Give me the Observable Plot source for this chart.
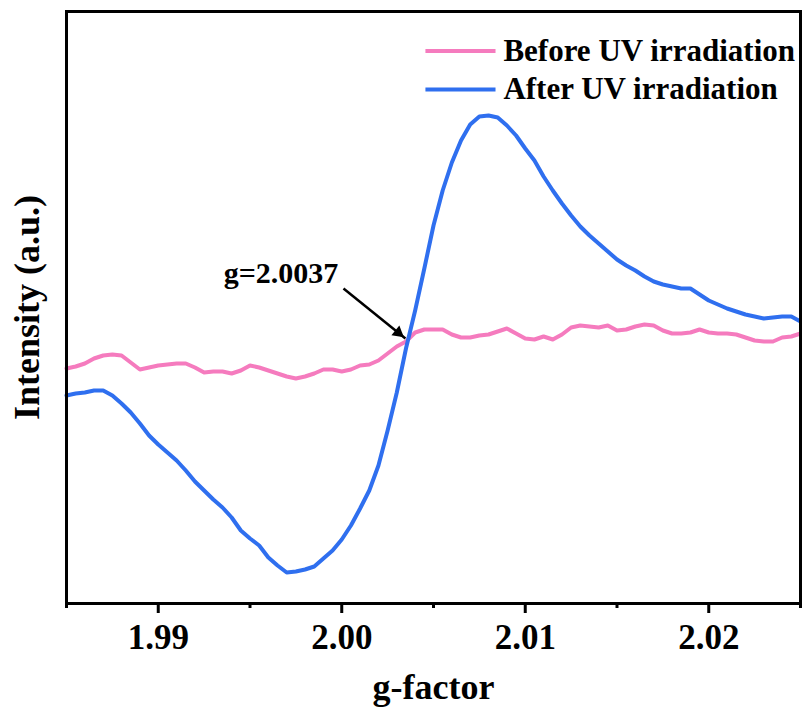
<!DOCTYPE html>
<html>
<head>
<meta charset="utf-8">
<script src="https://cdn.jsdelivr.net/npm/d3@7"></script>
<script src="https://cdn.jsdelivr.net/npm/@observablehq/plot@0.6"></script>
<style>
  html, body { margin: 0; padding: 0; background: #fff; }
</style>
</head>
<body>
<div id="chart"></div>
<script>
// g-factor sample positions
const gFactor = [
  1.9850, 1.9855, 1.9860, 1.9865, 1.9870, 1.9875, 1.9880, 1.9885, 1.9890, 1.9895,
  1.9900, 1.9905, 1.9910, 1.9915, 1.9920, 1.9925, 1.9930, 1.9935, 1.9940, 1.9945,
  1.9950, 1.9955, 1.9960, 1.9965, 1.9970, 1.9975, 1.9980, 1.9985, 1.9990, 1.9995,
  2.0000, 2.0005, 2.0010, 2.0015, 2.0020, 2.0025, 2.0030, 2.0035, 2.0040, 2.0045,
  2.0050, 2.0055, 2.0060, 2.0065, 2.0070, 2.0075, 2.0080, 2.0085, 2.0090, 2.0095,
  2.0100, 2.0105, 2.0110, 2.0115, 2.0120, 2.0125, 2.0130, 2.0135, 2.0140, 2.0145,
  2.0150, 2.0155, 2.0160, 2.0165, 2.0170, 2.0175, 2.0180, 2.0185, 2.0190, 2.0195,
  2.0200, 2.0205, 2.0210, 2.0215, 2.0220, 2.0225, 2.0230, 2.0235, 2.0240, 2.0245,
  2.0250
];

// Intensity (a.u.)
const beforeUV = [
  235, 237, 240, 245, 248, 249, 248, 241, 234, 236,
  238, 239, 240, 240, 236, 231, 232, 232, 230, 233,
  238, 236, 233, 230, 227, 225, 227, 230, 234, 234,
  232, 234, 238, 239, 243, 250, 257, 262, 271, 274,
  274, 274, 269, 266, 266, 268, 269, 272, 275, 270,
  265, 264, 267, 264, 269, 276, 278, 277, 276, 278,
  273, 274, 277, 279, 278, 273, 270, 270, 271, 274,
  271, 270, 270, 269, 266, 263, 262, 262, 266, 267,
  270
];

const afterUV = [
  208, 210, 211, 213, 213, 208, 200, 191, 180, 168,
  159, 151, 143, 133, 122, 113, 104, 96, 86, 73,
  65, 58, 46, 38, 31, 32, 34, 37, 45, 53,
  64, 78, 95, 113, 138, 173, 211, 255, 293, 335,
  378, 413, 441, 463, 479, 487, 488, 486, 478, 468,
  455, 443, 427, 413, 400, 388, 377, 368, 360, 352,
  344, 338, 333, 327, 322, 319, 317, 315, 315, 309,
  303, 299, 295, 292, 289, 287, 285, 286, 287, 287,
  282
];

const seriesNames = ["Before UV irradiation", "After UV irradiation"];
const seriesColors = ["#F57BBE", "#2F6FEF"];
const majorTicks = [1.99, 2.00, 2.01, 2.02];
const minorTicks = [1.985, 1.995, 2.005, 2.015, 2.025];
const xDomain = [1.985, 2.025];
const yDomain = [0, 592];
const xTitle = "g-factor";
const yTitle = "Intensity (a.u.)";

// legend rows (in data units)
const legendLineStart = [2.00456, 2.00456];
const legendLineEnd = [2.00838, 2.00838];
const legendTextStart = [2.00881, 2.00881];
const legendLevel = [552.5, 514];

// annotation
const annotationText = ["g=2.0037"];
const annotationPos = [{g: 1.99669, v: 330.6}];
const annotationArrow = [{g1: 2.000095, v1: 315, g2: 2.00347, v2: 265}];

const beforeRows = gFactor.map((g, i) => ({g, v: beforeUV[i]}));
const afterRows = gFactor.map((g, i) => ({g, v: afterUV[i]}));
const legendRows = seriesNames.map((name, i) => ({
  name, color: seriesColors[i],
  g1: legendLineStart[i], g2: legendLineEnd[i], gt: legendTextStart[i], v: legendLevel[i]
}));

const font = "'Liberation Serif', 'Times New Roman', Times, serif";

const chart = Plot.plot({
  width: 802,
  height: 708,
  marginLeft: 66,
  marginRight: 2,
  marginTop: 11,
  marginBottom: 105,
  style: {fontFamily: font, fontWeight: "bold", background: "#fff", color: "#000", overflow: "visible"},
  x: {domain: xDomain},
  y: {domain: yDomain, axis: null},
  marks: [
    Plot.axisX(minorTicks, {tickSize: 5, strokeWidth: 3, tickFormat: () => "", label: null}),
    Plot.axisX(majorTicks, {tickSize: 10, strokeWidth: 3, tickPadding: 11, fontSize: 35, fontWeight: "bold", tickFormat: d3.format(".2f"), label: null}),
    Plot.line(beforeRows, {x: "g", y: "v", stroke: seriesColors[0], strokeWidth: 4}),
    Plot.line(afterRows, {x: "g", y: "v", stroke: seriesColors[1], strokeWidth: 4}),
    Plot.frame({stroke: "#000", strokeWidth: 3}),
    // legend
    Plot.link(legendRows.slice(0, 1), {x1: "g1", x2: "g2", y1: "v", y2: "v", stroke: seriesColors[0], strokeWidth: 4}),
    Plot.link(legendRows.slice(1, 2), {x1: "g1", x2: "g2", y1: "v", y2: "v", stroke: seriesColors[1], strokeWidth: 4}),
    Plot.text(legendRows, {x: "gt", y: "v", text: "name", textAnchor: "start", fontSize: 31, fontWeight: "bold", fill: "#000"}),
    // annotation
    Plot.text(annotationPos, {x: "g", y: "v", text: () => annotationText[0], fontSize: 30, fontWeight: "bold", fill: "#000"}),
    Plot.link(annotationArrow, {x1: "g1", y1: "v1", x2: "g2", y2: "v2", stroke: "#000", strokeWidth: 2.5}),
    Plot.dot(annotationArrow, {x: "g2", y: "v2", symbol: "triangle2", r: 6, fill: "#000", stroke: "none", rotate: 128.9, dx: -7.2, dy: -5.8}),
    // axis titles
    Plot.text([xTitle], {text: d => d, frameAnchor: "bottom", textAnchor: "middle", lineAnchor: "middle", dy: 84, fontSize: 36, fontWeight: "bold", fill: "#000"}),
    Plot.text([yTitle], {text: d => d, frameAnchor: "left", textAnchor: "middle", lineAnchor: "middle", rotate: -90, dx: -39.5, dy: 0, fontSize: 36, fontWeight: "bold", fill: "#000"})
  ]
});

document.getElementById("chart").appendChild(chart);
</script>
</body>
</html>
